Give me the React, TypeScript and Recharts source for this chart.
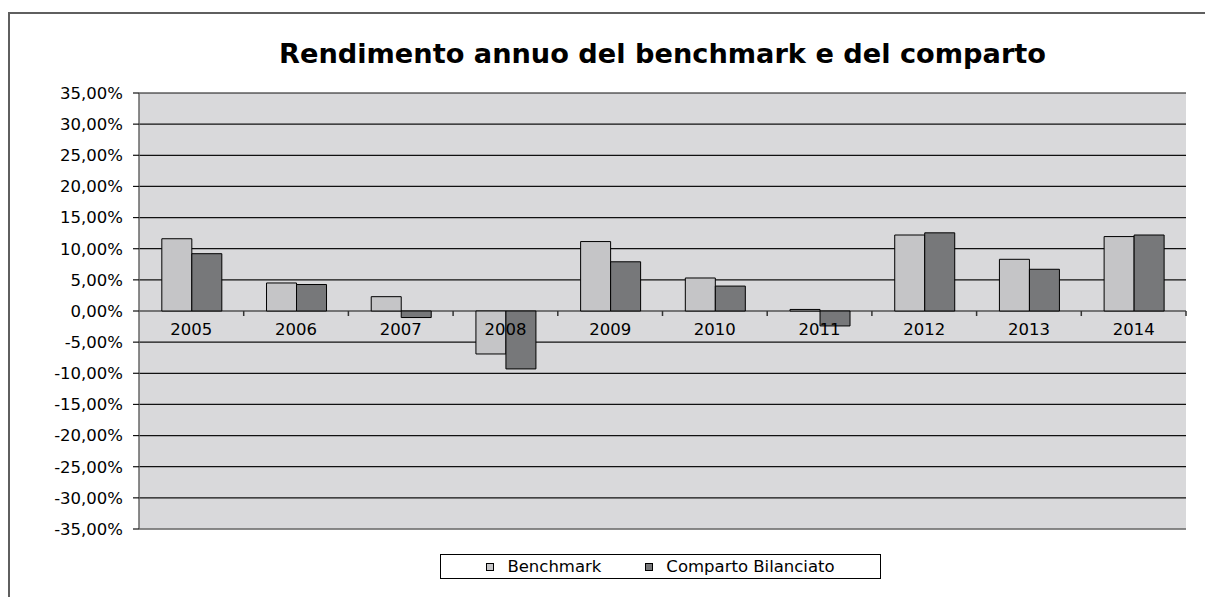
import React from 'react';
import { BarChart, Bar, XAxis, YAxis, CartesianGrid, Legend } from 'recharts';

const years = ['2005', '2006', '2007', '2008', '2009', '2010', '2011', '2012', '2013', '2014'];
const benchmark = [11.6, 4.5, 2.3, -6.9, 11.15, 5.3, 0.25, 12.2, 8.3, 11.95];
const comparto = [9.2, 4.25, -1.05, -9.3, 7.9, 4.0, -2.4, 12.55, 6.7, 12.2];
const yTicks = [-35, -30, -25, -20, -15, -10, -5, 0, 5, 10, 15, 20, 25, 30, 35];
const seriesNames = ['Benchmark', 'Comparto Bilanciato'];

const data = years.map((y, i) => ({ year: y, benchmark: benchmark[i], comparto: comparto[i] }));

const W = 1205;
const H = 597;
const M = { top: 93, right: 19, bottom: 38, left: 79 };
const Y_AXIS_W = 60;
const X_AXIS_H = 30;
const PLOT_TOP = M.top;
const PLOT_H = H - M.top - M.bottom - X_AXIS_H;
const PLOT_W = W - M.left - Y_AXIS_W - M.right;
const DOMAIN: [number, number] = [-35, 35];
const ZERO_Y = PLOT_TOP + (PLOT_H * (DOMAIN[1] - 0)) / (DOMAIN[1] - DOMAIN[0]);
const BAND = PLOT_W / years.length;

const FONT = '"DejaVu Sans", sans-serif';
const C_BENCH = '#c5c5c7';
const C_COMP = '#77787a';
const EDGE = '#8a8a8a';

const fmt = (v: number) => `${v.toFixed(2).replace('.', ',')}%`;

const XTick = (props: any) => {
  const { x, payload } = props;
  return (
    <g>
      <text x={x} y={ZERO_Y + 23.5} textAnchor="middle" fontSize={16.5} fontFamily={FONT} fill="#000">
        {payload.value}
      </text>
      <line x1={x + BAND / 2} x2={x + BAND / 2} y1={ZERO_Y} y2={ZERO_Y + 5} stroke="#333" strokeWidth={1.5} />
    </g>
  );
};

const LegendBox = () => {
  const colors = [C_BENCH, C_COMP];
  return (
    <div
      style={{
        width: 441,
        height: 25,
        boxSizing: 'border-box',
        border: '1px solid #000',
        background: '#fff',
        display: 'flex',
        justifyContent: 'center',
        alignItems: 'center',
        fontFamily: FONT,
        fontSize: 16.5,
        color: '#000',
      }}
    >
      {seriesNames.map((n, i) => (
        <div key={n} style={{ display: 'flex', alignItems: 'center', marginLeft: i === 0 ? 0 : 44 }}>
          <div
            style={{
              width: 8,
              height: 8,
              boxSizing: 'border-box',
              border: '1px solid #000',
              background: colors[i],
              marginRight: 13,
            }}
          />
          <span>{n}</span>
        </div>
      ))}
    </div>
  );
};

export default function App() {
  return (
    <div style={{ position: 'absolute', left: 0, top: 0, width: W, height: H, overflow: 'hidden' }}>
      <div
        style={{
          position: 'absolute',
          left: 8,
          top: 12,
          width: 1400,
          height: 800,
          boxSizing: 'border-box',
          borderLeft: '2px solid #5f5f5f',
          borderTop: '2px solid #5f5f5f',
        }}
      />
      <div
        style={{
          position: 'absolute',
          left: 662.5,
          top: 39.5,
          transform: 'translateX(-50%)',
          whiteSpace: 'nowrap',
          fontFamily: FONT,
          fontWeight: 'bold',
          fontSize: 27.2,
          lineHeight: '27px',
          color: '#000',
        }}
      >
        Rendimento annuo del benchmark e del comparto
      </div>
      <div style={{ position: 'absolute', left: 0, top: 0, width: W, height: H }}>
        <BarChart width={W} height={H} data={data} margin={M} barGap={0} barCategoryGap="21.8%">
          <CartesianGrid
            yAxisId="left"
            vertical={false}
            stroke="#111"
            strokeWidth={1.2}
            fill="#d9d9db"
            fillOpacity={1}
          />
          <XAxis
            xAxisId="main"
            dataKey="year"
            height={X_AXIS_H}
            axisLine={{ stroke: EDGE, strokeWidth: 1.5 }}
            tickLine={false}
            interval={0}
            tick={XTick}
          />
          <XAxis
            xAxisId="top"
            dataKey="year"
            orientation="top"
            height={0}
            tick={false}
            tickLine={false}
            axisLine={{ stroke: EDGE, strokeWidth: 1.5 }}
          />
          <YAxis
            yAxisId="left"
            width={Y_AXIS_W}
            domain={DOMAIN}
            ticks={yTicks}
            interval={0}
            tickFormatter={fmt}
            axisLine={{ stroke: '#666', strokeWidth: 1.5 }}
            tickLine={{ stroke: '#111', strokeWidth: 1.2 }}
            tickSize={6}
            tickMargin={10}
            tick={{ fontSize: 16.5, fontFamily: FONT, fill: '#000' }}
          />
          <YAxis
            yAxisId="right"
            orientation="right"
            width={0}
            domain={DOMAIN}
            tick={false}
            tickLine={false}
            axisLine={{ stroke: EDGE, strokeWidth: 1.5 }}
          />
          <Legend
            verticalAlign="middle"
            align="center"
            layout="horizontal"
            wrapperStyle={{ top: 554, left: 440, width: 441, height: 25 }}
            content={LegendBox}
          />
          <Bar
            xAxisId="main"
            yAxisId="left"
            dataKey="benchmark"
            name={seriesNames[0]}
            fill={C_BENCH}
            stroke="#000"
            strokeWidth={1}
            isAnimationActive={false}
          />
          <Bar
            xAxisId="main"
            yAxisId="left"
            dataKey="comparto"
            name={seriesNames[1]}
            fill={C_COMP}
            stroke="#000"
            strokeWidth={1}
            isAnimationActive={false}
          />
        </BarChart>
      </div>
    </div>
  );
}
